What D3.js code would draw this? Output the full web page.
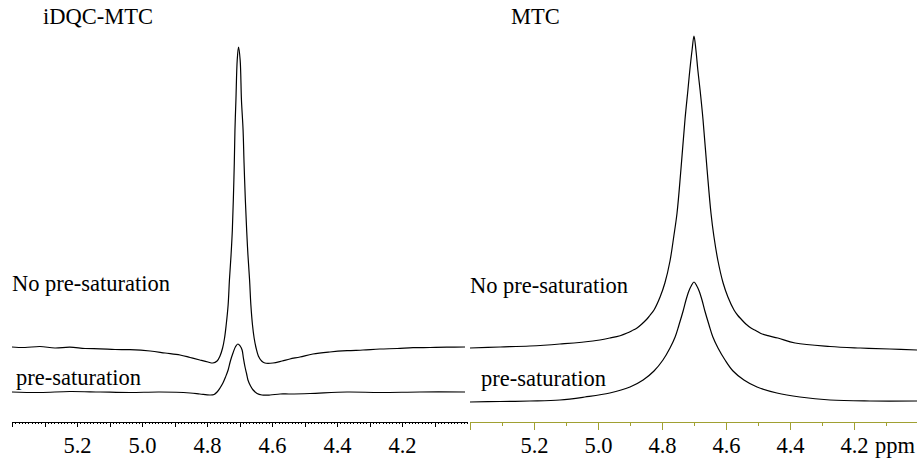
<!DOCTYPE html>
<html>
<head>
<meta charset="utf-8">
<script src="https://cdn.jsdelivr.net/npm/d3@7"></script>
<style>
  body { margin: 0; background: #fff; }
  text { font-family: "Liberation Serif", "Times New Roman", serif; }
</style>
</head>
<body>
<div id="chart"></div>
<script>
// panel titles and tick labels
var panelTitles = ["iDQC-MTC", "MTC"];
var tickLabels = [5.2, 5.0, 4.8, 4.6, 4.4, 4.2];
var ppmDomain = [5.4, 4.0];
var seriesLabels = ["No pre-saturation", "pre-saturation"];

// iDQC-MTC, no pre-saturation
var idqcNoSatPpm = [5.400, 5.360, 5.314, 5.268, 5.222, 5.175, 5.129, 5.083, 5.037, 4.975, 4.929, 4.883, 4.852, 4.822, 4.797,
  4.782, 4.769, 4.760, 4.752, 4.746, 4.741, 4.735, 4.731, 4.726, 4.722, 4.719, 4.716, 4.714, 4.711, 4.707, 4.703,
  4.698, 4.694, 4.689, 4.686, 4.682, 4.678, 4.674, 4.669, 4.665, 4.660, 4.655, 4.649, 4.642, 4.632, 4.622,
  4.597, 4.569, 4.545, 4.514, 4.474, 4.422, 4.369, 4.320, 4.268, 4.215, 4.166, 4.114, 4.062, 4.006];
var idqcNoSat = [75, 74.5, 75.5, 74, 74.8, 73.5, 73.2, 72.5, 72.3, 71, 69, 67, 64.5, 62, 60,
  59, 61, 66, 74, 84, 97, 117, 142, 167, 192, 222, 259, 292, 322, 362, 375,
  362, 322, 292, 259, 222, 192, 167, 142, 117, 97, 84, 74, 66, 61, 59,
  59, 61, 63, 65, 68, 70, 71.3, 72, 73, 73.5, 74.3, 74.5, 74.8, 75];

// iDQC-MTC, pre-saturation
var idqcSatPpm = [5.400, 5.314, 5.222, 5.129, 5.037, 4.945, 4.852, 4.822, 4.791, 4.778, 4.769, 4.760, 4.751, 4.743, 4.735, 4.728, 4.720, 4.712, 4.705, 4.698, 4.692, 4.688, 4.683, 4.678, 4.674, 4.666, 4.658, 4.646, 4.631, 4.606, 4.575, 4.545, 4.483, 4.369, 4.268, 4.145, 4.006];
var idqcSat = [30, 29.5, 30.5, 30, 29.5, 30, 29, 28, 27, 27.5, 30, 34, 39, 45, 52, 61, 69, 75.5, 78, 76, 72, 64, 55, 48, 42, 36, 32, 28.5, 27, 27, 28, 28, 28.5, 30, 29.5, 30, 30];

// MTC, no pre-saturation
var mtcNoSatPpm = [5.400, 5.306, 5.213, 5.119, 5.016, 4.963, 4.931, 4.909, 4.894, 4.878, 4.863, 4.847, 4.838, 4.825, 4.806,
  4.791, 4.775, 4.763, 4.753, 4.741, 4.728, 4.719, 4.713, 4.706, 4.700, 4.694, 4.688, 4.681, 4.672, 4.659,
  4.647, 4.638, 4.625, 4.609, 4.594, 4.575, 4.563, 4.553, 4.538, 4.522, 4.506, 4.491, 4.469, 4.438, 4.384,
  4.275, 4.181, 4.088, 4.003];
var mtcNoSat = [74, 75, 76, 78, 81, 84, 86.3, 89, 91.3, 94, 98, 103, 106.5, 112, 125,
  139, 161, 186, 209, 252, 303, 332, 352, 372, 386, 372, 352, 332, 303, 252,
  209, 186, 161, 139, 125, 112, 106.5, 103, 98, 94, 91.3, 88.5, 86.3, 84, 79,
  75.5, 74, 73, 72];

// MTC, pre-saturation
var mtcSatPpm = [5.400, 5.306, 5.213, 5.119, 5.041, 4.963, 4.900, 4.859, 4.825, 4.797, 4.775, 4.759, 4.747, 4.734, 4.725, 4.716, 4.708,
  4.700, 4.692, 4.684, 4.675, 4.666, 4.653, 4.641, 4.625, 4.603, 4.578, 4.544, 4.503, 4.441, 4.369, 4.275, 4.150, 4.003];
var mtcSat = [20, 20.5, 21, 22, 25, 29, 35, 42, 51, 62, 74, 85, 97, 111, 122, 131, 136.5,
  140, 136.5, 131, 122, 111, 97, 85, 74, 62, 51, 42, 35, 29, 25, 22, 21, 21];

function nmrChart() {
    var width = 917;
    var height = 462;

    var svg = d3.select('#chart')
      .append('svg')
      .attr('width', width)
      .attr('height', height);

    var y = d3.scaleLinear().domain([0, 400]).range([422, 22]);

    var panels = [
      {x: d3.scaleLinear().domain(ppmDomain).range([12, 467]), axisColor: '#000',
       title: [43, 24], labels: [[12, 291], [16, 385]],
       series: [[idqcNoSatPpm, idqcNoSat], [idqcSatPpm, idqcSat]], minor: 0.01, major: 0.1,
       minorSize: 2, majorSize: 5},
      {x: d3.scaleLinear().domain(ppmDomain).range([470, 918]), axisColor: '#a0a032',
       title: [511, 24], labels: [[470, 293], [481, 386]],
       series: [[mtcNoSatPpm, mtcNoSat], [mtcSatPpm, mtcSat]], minor: 0.1, major: 0.2,
       minorSize: 4, majorSize: 8}
    ];

    panels.forEach(function(p, pi) {
      var x = p.x;

      var line = d3.line()
        .x(function(d) { return x(d[0]); })
        .y(function(d) { return y(d[1]); })
        .curve(d3.curveCatmullRom.alpha(0.5));

      p.series.forEach(function(s) {
        var pts = s[0].map(function(v, i) { return [v, s[1][i]]; });
        svg.append('path')
          .attr('d', line(pts))
          .attr('fill', 'none')
          .attr('stroke', '#000')
          .attr('stroke-width', 1.2);
      });

      var nMinor = Math.round((ppmDomain[0] - ppmDomain[1]) / p.minor);
      var minorVals = d3.range(nMinor + 1).map(function(i) { return +(ppmDomain[0] - i * p.minor).toFixed(3); });
      var nMajor = Math.round((ppmDomain[0] - ppmDomain[1]) / p.major);
      var majorVals = d3.range(nMajor + 1).map(function(i) { return +(ppmDomain[0] - i * p.major).toFixed(3); });
      if (pi === 0) majorVals = majorVals.filter(function(v) { return x(v) <= 466; });

      var g = svg.append('g')
        .attr('transform', 'translate(0, 421.5)')
        .attr('shape-rendering', 'crispEdges');

      // minor ticks + axis line
      g.append('g')
        .call(d3.axisBottom(x).tickValues(minorVals.filter(function(v) { return x(v) <= 917; }))
          .tickSize(p.minorSize).tickSizeOuter(0).tickFormat(''))
        .call(function(a) {
          a.select('.domain').attr('stroke', p.axisColor);
          a.selectAll('.tick line').attr('stroke', p.axisColor);
        });

      // major ticks with labels
      g.append('g')
        .call(d3.axisBottom(x).tickValues(majorVals.filter(function(v) { return x(v) <= 917; }))
          .tickSize(p.majorSize).tickSizeOuter(0)
          .tickFormat(function(v) {
            return tickLabels.some(function(t) { return Math.abs(t - v) < 1e-6; }) ? d3.format('.1f')(v) : '';
          }))
        .call(function(a) {
          a.select('.domain').remove();
          a.selectAll('.tick line').attr('stroke', p.axisColor);
          a.selectAll('.tick text')
            .attr('y', 31).attr('dy', null)
            .attr('fill', '#000')
            .style('font-family', '"Liberation Serif", serif')
            .style('font-size', '22.5px');
        });

      svg.append('text')
        .attr('x', p.title[0]).attr('y', p.title[1])
        .style('font-size', '22.5px')
        .text(panelTitles[pi]);

      p.labels.forEach(function(l, li) {
        svg.append('text')
          .attr('x', l[0]).attr('y', l[1])
          .style('font-size', '22.5px')
          .text(seriesLabels[li]);
      });
    });

    svg.append('text')
      .attr('x', 875).attr('y', 452.5)
      .style('font-size', '22.5px')
      .text('ppm');
}

nmrChart();
</script>
</body>
</html>
